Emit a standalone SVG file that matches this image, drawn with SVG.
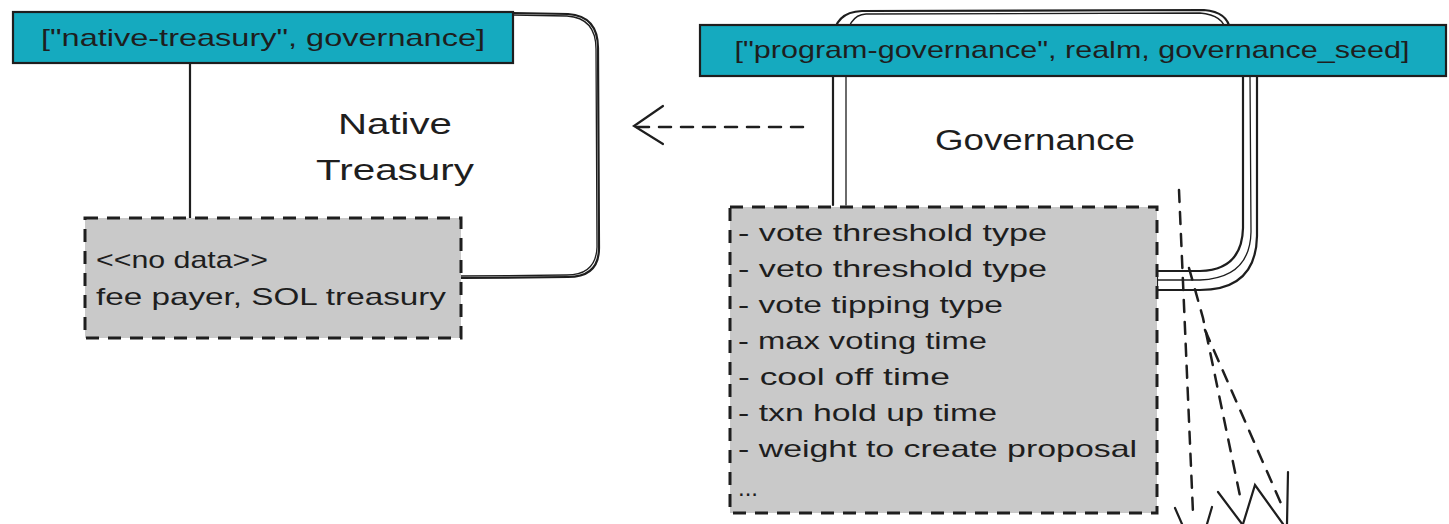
<svg xmlns="http://www.w3.org/2000/svg" width="1449" height="524" viewBox="0 0 1449 524">
<defs>
<style>
.t{font-family:"Liberation Sans","DejaVu Sans",sans-serif;fill:#1e1e1e}
.s{font-size:24px}
.b{font-size:30px}
.seed{fill:#15aabf;stroke:#1e1e1e;stroke-width:2.2}
.data{fill:#c9c9c9;stroke:#1e1e1e;stroke-width:3;stroke-dasharray:13 9}
.ln{fill:none;stroke:#1e1e1e;stroke-width:2.2;stroke-linecap:round}
.ln1{fill:none;stroke:#1e1e1e;stroke-width:1.3;stroke-linecap:round}
.dash{fill:none;stroke:#1e1e1e;stroke-width:2.5;stroke-dasharray:12 10;stroke-linecap:round}
</style>
</defs>
<rect width="1449" height="524" fill="#ffffff"/>
<g id="connectors">
  <!-- left: native treasury seed -> box -->
  <path class="ln" d="M190 63 L190 218"/>
  <path class="ln" d="M513 13 L568 14 Q598 16 598 48 L599 248 Q599 277 568 277 L461 278"/>
  <path class="ln1" d="M513 15 L567 16 Q596 18 596 49 L597 247 Q596 275 567 275 L461 276"/>
  <!-- dashed arrow -->
  <path class="dash" d="M803 127 L636 127"/>
  <path class="ln" d="M663 106 L634 126 L663 144"/>
  <!-- governance loop (behind) -->
  <path class="ln" d="M833 205 L833 40 Q834 12 862 11 L1204 10 Q1228 12 1230 30"/>
  <path class="ln1" d="M846 205 L846 45 Q847 15 866 14 L1200 13 Q1224 15 1226 32"/>
  <path class="ln" d="M1243 76 L1243 228 Q1242 270 1200 271 L1157 271"/>
  <path class="ln1" d="M1250 76 L1251 232 Q1250 278 1200 280 L1157 280"/>
  <path class="ln" d="M1257 76 L1257 236 Q1256 290 1200 290 L1157 290"/>
  <path class="ln" d="M1157 270 L1157 292"/>
  <!-- dashed lines to the lower right -->
  <path class="dash" d="M1179 190 L1193 513"/>
  <path class="dash" d="M1189 268 L1203 318 L1240 496"/>
  <path class="dash" d="M1205 330 L1283 508"/>
  <path class="ln" d="M1175 508 L1182 524"/>
  <path class="ln" d="M1212 507 L1207 524"/>
  <path class="ln" d="M1218 492 L1242 524"/>
  <path class="ln" d="M1243 524 L1255 485 L1283 524"/>
  <path class="ln" d="M1288 472 L1287 524"/>
</g>
<g id="native-treasury-seed">
  <rect class="seed" x="13" y="12" width="500" height="51"/>
  <text class="t s" x="263" y="46" text-anchor="middle" textLength="444" lengthAdjust="spacingAndGlyphs">["native-treasury", governance]</text>
</g>
<g id="native-treasury-label">
  <text class="t b" x="395" y="134" text-anchor="middle" textLength="114" lengthAdjust="spacingAndGlyphs">Native</text>
  <text class="t b" x="395" y="180" text-anchor="middle" textLength="158" lengthAdjust="spacingAndGlyphs">Treasury</text>
</g>
<g id="native-treasury-data">
  <rect class="data" x="85" y="218" width="376" height="120"/>
  <text class="t s" x="96" y="268" textLength="172" lengthAdjust="spacingAndGlyphs">&lt;&lt;no data&gt;&gt;</text>
  <text class="t s" x="96" y="305" textLength="350" lengthAdjust="spacingAndGlyphs">fee payer, SOL treasury</text>
</g>
<g id="program-governance-seed">
  <rect class="seed" x="700" y="25" width="746" height="51"/>
  <text class="t s" x="1072" y="58" text-anchor="middle" textLength="675" lengthAdjust="spacingAndGlyphs">["program-governance", realm, governance_seed]</text>
</g>
<g id="governance-label">
  <text class="t b" x="1035" y="150" text-anchor="middle" textLength="200" lengthAdjust="spacingAndGlyphs">Governance</text>
</g>
<g id="governance-data">
  <rect class="data" x="730" y="207" width="427" height="306"/>
  <text class="t s" x="738" y="241" textLength="309" lengthAdjust="spacingAndGlyphs">- vote threshold type</text>
  <text class="t s" x="738" y="277" textLength="309" lengthAdjust="spacingAndGlyphs">- veto threshold type</text>
  <text class="t s" x="738" y="313" textLength="265" lengthAdjust="spacingAndGlyphs">- vote tipping type</text>
  <text class="t s" x="738" y="349" textLength="249" lengthAdjust="spacingAndGlyphs">- max voting time</text>
  <text class="t s" x="738" y="385" textLength="212" lengthAdjust="spacingAndGlyphs">- cool off time</text>
  <text class="t s" x="738" y="421" textLength="259" lengthAdjust="spacingAndGlyphs">- txn hold up time</text>
  <text class="t s" x="738" y="457" textLength="399" lengthAdjust="spacingAndGlyphs">- weight to create proposal</text>
  <text class="t s" x="738" y="496">...</text>
</g>
</svg>
